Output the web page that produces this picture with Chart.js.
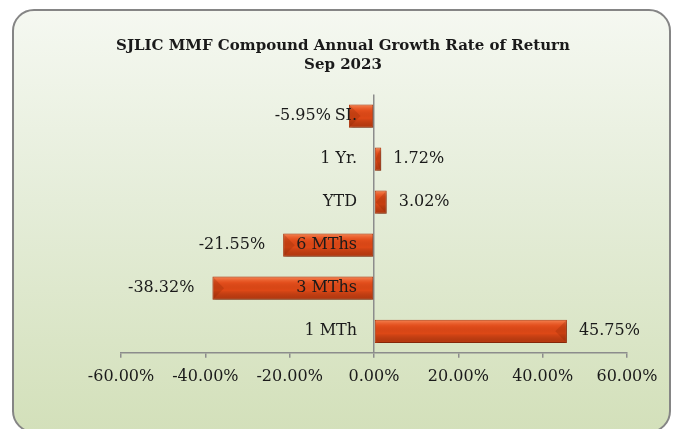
<!DOCTYPE html>
<html>
<head>
<meta charset="utf-8">
<script src="https://cdn.jsdelivr.net/npm/chart.js@4.4.0/dist/chart.umd.min.js"></script>
<style>
  html, body { margin: 0; padding: 0; background: #fff; }
  #frame {
    position: absolute; left: 12px; top: 9px; width: 659px; height: 424px;
    box-sizing: border-box; border: 2px solid #858585; border-radius: 22px;
    background: linear-gradient(to bottom, #f5f8f1 0%, #e5edd9 45%, #d3e0ba 100%);
  }
  #growthChart { position: absolute; left: 0; top: 0; }
</style>
</head>
<body>
<div id="frame"></div>
<canvas id="growthChart" width="674" height="429"></canvas>
<script>
// Periods (top to bottom) and their compound annual growth rates, in %
const periodLabels = ['SI.', '1 Yr.', 'YTD', '6 MThs', '3 MThs', '1 MTh'];
const growthRates = [-5.95, 1.72, 3.02, -21.55, -38.32, 45.75];
const titleLines = ['SJLIC MMF Compound Annual Growth Rate of Return', 'Sep 2023'];

// Value axis range
const axisMin = -60;
const axisMax = 60;
const axisStep = 20;

const textFont = 'DejaVu Serif';
const textColor = '#1a1a1a';
const axisColor = '#8c8c8c';

// Title, centred on the frame rather than on the plot
const frameTitle = {
    id: 'frameTitle',
    afterDraw(chart) {
        const ctx = chart.ctx;
        ctx.save();
        ctx.font = 'bold 15px "' + textFont + '"';
        ctx.fillStyle = textColor;
        ctx.textAlign = 'center';
        ctx.textBaseline = 'middle';
        titleLines.forEach((line, i) => ctx.fillText(line, 343, 46.5 + i * 19));
        ctx.restore();
    }
};

// Percentage labels at the end of each bar
const valueLabels = {
    id: 'valueLabels',
    afterDatasetsDraw(chart) {
        const ctx = chart.ctx;
        const meta = chart.getDatasetMeta(0);
        ctx.save();
        ctx.font = '16px "' + textFont + '"';
        ctx.fillStyle = textColor;
        ctx.textBaseline = 'middle';
        meta.data.forEach((bar, i) => {
            const v = growthRates[i];
            if (v >= 0) {
                ctx.textAlign = 'left';
                ctx.fillText(v.toFixed(2) + '%', bar.x + 12, bar.y);
            } else {
                ctx.textAlign = 'right';
                ctx.fillText(v.toFixed(2) + '%', bar.x - 18, bar.y);
            }
        });
        ctx.restore();
    }
};

// Shadow under the bars and a bevel-like shading on top
const barShading = {
    id: 'barShading',
    beforeDatasetDraw(chart) {
        const ctx = chart.ctx;
        ctx.save();
        ctx.shadowColor = 'rgba(0,0,0,0.35)';
        ctx.shadowBlur = 3;
        ctx.shadowOffsetX = 1;
        ctx.shadowOffsetY = 2;
    },
    afterDatasetDraw(chart) {
        const ctx = chart.ctx;
        ctx.restore();
        const meta = chart.getDatasetMeta(0);
        ctx.save();
        meta.data.forEach(bar => {
            const {x, y, base, height} = bar.getProps(['x', 'y', 'base', 'height'], true);
            const left = Math.min(x, base) + 1;
            const w = Math.abs(x - base) - 2;
            const top = y - height / 2 + 1;
            const h = height - 2;
            if (w <= 0) return;
            const g = ctx.createLinearGradient(0, top, 0, top + h);
            g.addColorStop(0, 'rgba(255,160,110,0.6)');
            g.addColorStop(0.25, 'rgba(255,120,70,0.12)');
            g.addColorStop(0.6, 'rgba(0,0,0,0)');
            g.addColorStop(1, 'rgba(100,25,0,0.35)');
            ctx.fillStyle = g;
            ctx.fillRect(left, top, w, h);
            // bevelled outer end
            const d = Math.min(h * 0.5, w);
            const ex = x >= base ? left + w : left;
            const dir = x >= base ? -1 : 1;
            ctx.fillStyle = 'rgba(120,30,0,0.22)';
            ctx.beginPath();
            ctx.moveTo(ex, top);
            ctx.lineTo(ex + dir * d, top + h / 2);
            ctx.lineTo(ex, top + h);
            ctx.closePath();
            ctx.fill();
        });
        ctx.restore();
    }
};

const growthChart = new Chart(document.getElementById('growthChart'), {
    type: 'bar',
    data: {
        labels: periodLabels,
        datasets: [{
            label: 'CAGR',
            data: growthRates,
            backgroundColor: '#de4816',
            borderColor: '#b0350c',
            borderWidth: 1,
            borderSkipped: false,
            barPercentage: 0.9,
            categoryPercentage: 0.6
        }]
    },
    options: {
        indexAxis: 'y',
        responsive: false,
        animation: false,
        layout: {
            padding: { left: 121, right: 47, top: 94.5, bottom: 34 }
        },
        scales: {
            x: {
                min: axisMin,
                max: axisMax,
                grid: {
                    drawOnChartArea: true,
                    drawTicks: true,
                    tickLength: 5,
                    lineWidth: 1.5,
                    // only the zero line crosses the plot
                    color: c => (c.tick && c.tick.value === 0 ? axisColor : 'rgba(0,0,0,0)'),
                    tickColor: axisColor
                },
                border: { display: true, color: axisColor, width: 1.5 },
                ticks: {
                    stepSize: axisStep,
                    padding: 9,
                    color: textColor,
                    font: { family: textFont, size: 16 },
                    callback: v => v.toFixed(2) + '%'
                }
            },
            y: {
                // labels sit just left of the zero line
                position: { x: -4.03 },
                grid: { display: false, drawTicks: false },
                border: { display: false },
                ticks: {
                    z: 1,
                    color: textColor,
                    font: { family: textFont, size: 16 }
                }
            }
        },
        plugins: {
            legend: { display: false },
            tooltip: { enabled: false },
            title: { display: false }
        }
    },
    plugins: [barShading, valueLabels, frameTitle]
});
</script>
</body>
</html>
